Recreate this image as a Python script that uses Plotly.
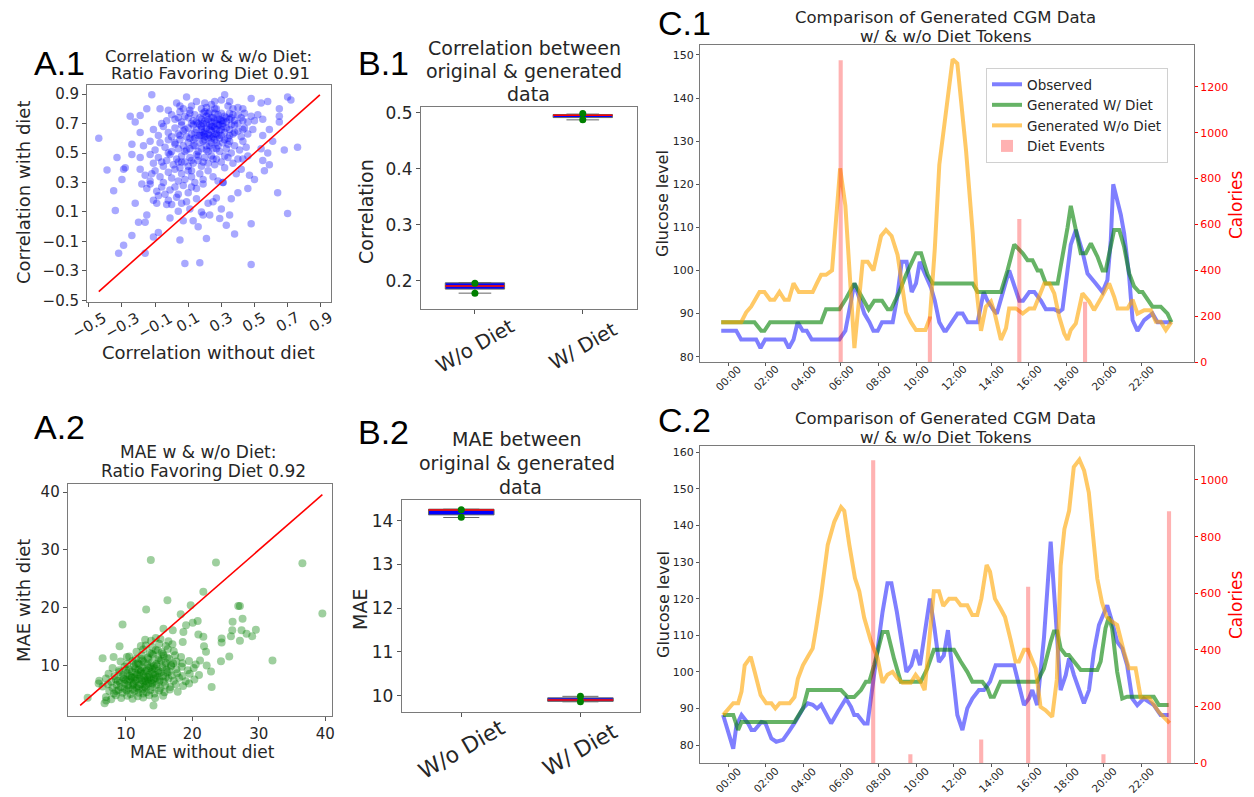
import plotly.graph_objects as go

W, H = 1254, 797


def px(x):
    return x / W


def py(y):
    return 1 - y / H


FONT = "DejaVu Sans"
TXT = "#262626"

# ---------------- A.1 : correlation with / without diet ----------------
corr_without_diet = [
    -0.12, -0.15, -0.07, -0.02, 0.03, 0.05, 0.09, 0.12, 0.15, 0.18,
    0.21, 0.24, 0.27, 0.30, 0.32, 0.34, 0.37, 0.40, 0.43, 0.48,
    0.54, 0.58, 0.65, 0.70, 0.72, 0.26, 0.11, 0.20, 0.35, 0.07,
    -0.25, -0.22, -0.19, -0.06, -0.03, 0.00, 0.02, 0.05, 0.06, 0.08,
    0.10, 0.11, 0.13, 0.14, 0.16, 0.17, 0.19, 0.20, 0.21, 0.23,
    0.24, 0.25, 0.26, 0.27, 0.29, 0.30, 0.32, 0.33, 0.35, 0.36,
    0.38, 0.40, 0.42, 0.44, 0.46, 0.48, 0.50, 0.52, 0.55, 0.65,
    0.65, 0.22, 0.28, 0.31, 0.18, 0.12, 0.37, 0.43, 0.04, 0.26,
    -0.44, -0.19, -0.11, -0.08, -0.05, -0.02, 0.00, 0.02, 0.04, 0.06,
    0.07, 0.09, 0.10, 0.12, 0.13, 0.14, 0.15, 0.17, 0.18, 0.19,
    0.20, 0.21, 0.22, 0.23, 0.24, 0.25, 0.26, 0.27, 0.28, 0.29,
    0.30, 0.31, 0.32, 0.34, 0.35, 0.37, 0.38, 0.40, 0.42, 0.44,
    0.46, 0.49, 0.55, 0.59, 0.22, 0.24, 0.20, 0.27, 0.18, 0.33,
    -0.24, -0.17, -0.13, -0.10, -0.07, -0.04, -0.02, 0.00, 0.02, 0.04,
    0.05, 0.07, 0.08, 0.10, 0.11, 0.13, 0.14, 0.16, 0.17, 0.18,
    0.20, 0.21, 0.22, 0.24, 0.25, 0.26, 0.28, 0.29, 0.31, 0.33,
    0.35, 0.36, 0.38, 0.41, 0.43, 0.45, 0.54, 0.61, 0.68, 0.76,
    -0.33, -0.28, -0.24, -0.19, -0.13, -0.11, -0.08, -0.05, -0.03, -0.01,
    0.01, 0.03, 0.05, 0.06, 0.08, 0.10, 0.11, 0.13, 0.15, 0.16,
    0.18, 0.20, 0.22, 0.24, 0.26, 0.27, 0.30, 0.32, 0.34, 0.37,
    0.40, 0.43, 0.46, 0.59, 0.55, 0.58, 0.12, 0.19, 0.04, -0.06,
    -0.39, -0.29, -0.30, -0.19, -0.16, -0.13, -0.10, -0.07, -0.05, -0.02,
    0.00, 0.02, 0.04, 0.06, 0.08, 0.10, 0.12, 0.14, 0.17, 0.19,
    0.22, 0.25, 0.28, 0.31, 0.39, 0.47, 0.50, 0.56, 0.42, -0.12,
    -0.35, -0.18, -0.13, -0.09, -0.06, -0.04, -0.01, 0.04, 0.07, 0.10,
    0.15, 0.19, 0.40, 0.46, 0.64, 0.31, -0.15, 0.02, 0.12, -0.08,
    -0.34, -0.22, -0.09, -0.02, -0.03, 0.00, 0.04, 0.06, 0.09, 0.11,
    0.22, 0.25, 0.27, 0.18, 0.36, 0.19, 0.03, -0.11, 0.15, 0.30,
    -0.15, -0.20, -0.16, -0.24, -0.29, -0.32, -0.16, -0.11, -0.08, 0.05,
    0.08, 0.17, 0.48, 0.21, 0.16, 0.07, -0.01, 0.23, 0.29, 0.33,
    0.38, 0.48, 0.35, 0.70, 0.13,
    0.15, 0.18, 0.21, 0.23, 0.25, 0.28, 0.30, 0.33, 0.35, 0.19,
    0.22, 0.26, 0.29, 0.31, 0.24, 0.17, 0.20, 0.27, 0.32, 0.36,
    0.14, 0.11, 0.08, 0.13, 0.16, 0.23, 0.25, 0.28, 0.21, 0.30,
    0.38, 0.40, 0.34, 0.19, 0.26, 0.23, 0.29, 0.16, 0.09, 0.05,
    0.02, -0.02, 0.06, 0.12, 0.27, 0.32, 0.35, 0.43, 0.24, 0.20,
]
corr_with_diet = [
    0.895, 0.80, 0.80, 0.79, 0.84, 0.82, 0.88, 0.82, 0.85, 0.80,
    0.81, 0.83, 0.80, 0.86, 0.895, 0.82, 0.80, 0.81, 0.80, 0.87,
    0.84, 0.85, 0.80, 0.88, 0.86, 0.85, 0.79, 0.84, 0.85, 0.80,
    0.75, 0.71, 0.755, 0.70, 0.72, 0.76, 0.73, 0.78, 0.71, 0.75,
    0.74, 0.77, 0.72, 0.76, 0.70, 0.74, 0.77, 0.72, 0.75, 0.78,
    0.71, 0.74, 0.77, 0.70, 0.73, 0.77, 0.75, 0.71, 0.77, 0.74,
    0.72, 0.76, 0.74, 0.77, 0.71, 0.75, 0.72, 0.76, 0.73, 0.75,
    0.71, 0.73, 0.76, 0.72, 0.73, 0.70, 0.76, 0.72, 0.74, 0.72,
    0.60, 0.64, 0.66, 0.62, 0.68, 0.64, 0.61, 0.67, 0.63, 0.69,
    0.65, 0.61, 0.67, 0.63, 0.69, 0.60, 0.66, 0.62, 0.68, 0.64,
    0.61, 0.67, 0.63, 0.69, 0.65, 0.61, 0.67, 0.63, 0.69, 0.65,
    0.62, 0.68, 0.64, 0.60, 0.66, 0.63, 0.69, 0.65, 0.61, 0.67,
    0.63, 0.66, 0.62, 0.66, 0.60, 0.68, 0.65, 0.66, 0.62, 0.67,
    0.56, 0.55, 0.58, 0.52, 0.57, 0.54, 0.59, 0.51, 0.56, 0.53,
    0.59, 0.55, 0.51, 0.57, 0.53, 0.59, 0.55, 0.51, 0.57, 0.53,
    0.59, 0.55, 0.51, 0.57, 0.53, 0.59, 0.55, 0.51, 0.57, 0.53,
    0.58, 0.50, 0.55, 0.52, 0.58, 0.54, 0.53, 0.58, 0.52, 0.54,
    0.47, 0.40, 0.49, 0.47, 0.49, 0.43, 0.47, 0.41, 0.45, 0.49,
    0.42, 0.46, 0.40, 0.48, 0.44, 0.41, 0.47, 0.43, 0.49, 0.45,
    0.41, 0.47, 0.43, 0.48, 0.42, 0.46, 0.44, 0.40, 0.47, 0.43,
    0.46, 0.46, 0.48, 0.42, 0.45, 0.50, 0.45, 0.44, 0.44, 0.44,
    0.385, 0.39, 0.32, 0.39, 0.35, 0.31, 0.38, 0.34, 0.30, 0.37,
    0.33, 0.39, 0.31, 0.36, 0.32, 0.38, 0.34, 0.30, 0.36, 0.32,
    0.38, 0.34, 0.31, 0.30, 0.36, 0.35, 0.32, 0.38, 0.39, 0.36,
    0.245, 0.29, 0.29, 0.24, 0.27, 0.22, 0.25, 0.22, 0.28, 0.23,
    0.26, 0.29, 0.23, 0.26, 0.23, 0.30, 0.26, 0.27, 0.27, 0.21,
    0.11, 0.16, 0.16, 0.18, 0.15, 0.15, 0.105, 0.16, 0.17, 0.12,
    0.16, 0.17, 0.195, 0.10, 0.19, 0.08, 0.20, 0.18, 0.19, 0.12,
    0.08, 0.03, 0.03, -0.06, -0.125, -0.18, -0.18, -0.07, -0.04, -0.09,
    -0.25, -0.245, -0.256, -0.08, 0.00, 0.04, 0.06, 0.08, 0.055, 0.01,
    -0.05, 0.02, 0.08, 0.09, 0.04,
    0.71, 0.66, 0.70, 0.62, 0.68, 0.73, 0.66, 0.74, 0.62, 0.58,
    0.77, 0.63, 0.60, 0.70, 0.74, 0.69, 0.63, 0.57, 0.59, 0.69,
    0.64, 0.60, 0.66, 0.55, 0.48, 0.55, 0.46, 0.62, 0.52, 0.72,
    0.64, 0.70, 0.56, 0.70, 0.80, 0.66, 0.69, 0.62, 0.52, 0.62,
    0.57, 0.50, 0.44, 0.38, 0.53, 0.48, 0.73, 0.66, 0.60, 0.78,
]
corr_ticks = [-0.5, -0.3, -0.1, 0.1, 0.3, 0.5, 0.7, 0.9]

# ---------------- A.2 : MAE with / without diet ----------------
mae_without_diet = [
    13.75, 23.55, 36.55, 39.55, 21.65, 16.25, 13.05, 19.75, 9.5, 32.05,
    22.9, 14.15, 4.25, 26.9, 27.15, 27.55, 26.05, 26.0, 27.4, 28.15,
    29.55, 29.0, 27.15, 25.8, 24.4, 24.4, 25.55, 24.3, 22.8, 21.65,
    18.25, 19.05, 20.05, 20.8, 20.9, 18.55, 18.65, 17.05, 15.65, 12.9,
    12.25, 9.05, 8.15, 6.5, 10.15, 5.9, 7.05, 6.8, 21.75, 22.05,
    22.15, 21.15, 7.0, 7.8, 8.5, 9.3, 10.2, 11.0, 11.8, 12.6,
    13.5, 14.4, 15.6, 7.5, 8.2, 8.9, 9.5, 10.1, 10.7, 11.3,
    11.9, 12.5, 13.1, 13.7, 14.3, 15.0, 15.8, 16.6, 17.8, 6.5,
    7.3, 8.0, 8.6, 9.2, 9.8, 10.4, 11.0, 11.6, 12.2, 12.8,
    13.4, 14.0, 14.6, 15.2, 15.9, 16.7, 17.5, 18.6, 19.5, 6.0,
    7.0, 7.8, 8.5, 9.1, 9.7, 10.3, 10.9, 11.5, 12.1, 12.7,
    13.3, 13.9, 14.5, 15.1, 15.7, 16.4, 17.2, 18.0, 19.0, 20.3,
    7.4, 8.3, 9.0, 9.6, 10.2, 10.8, 11.4, 12.0, 12.6, 13.2,
    13.8, 14.4, 15.0, 15.6, 16.2, 16.9, 17.7, 18.5, 19.6, 21.0,
    8.0, 9.0, 9.8, 10.5, 11.2, 11.9, 12.5, 13.1, 13.7, 14.3,
    14.9, 15.5, 16.1, 16.8, 17.6, 18.4, 19.3, 20.2, 9.2, 10.2,
    11.0, 11.8, 12.5, 13.2, 13.9, 14.6, 15.3, 16.0, 16.8, 17.6,
    18.5, 19.5, 20.5, 10.5, 11.5, 12.4, 13.3, 14.1, 14.9, 15.7,
    16.5, 17.4, 18.3, 11.6, 12.6, 13.6, 14.5, 15.4, 16.3, 17.2,
    13.0, 14.0, 15.0, 16.0, 17.0, 13.8, 15.2, 16.4, 14.5, 11.2,
    12.4, 13.6, 12.9, 11.7, 14.2, 13.0, 10.6, 12.3, 14.8, 11.9,
    13.4, 10.9, 12.8, 14.0,
    10.0, 10.6, 11.1, 11.7, 12.2, 12.9, 13.5, 14.1, 14.7, 15.3,
    15.9, 16.5, 11.4, 12.0, 12.7, 13.4, 14.2, 15.0, 16.2, 17.1,
    10.3, 11.0, 12.0, 13.0, 14.0, 15.0, 16.0, 9.5, 8.8, 10.1,
    11.5, 12.3, 13.9, 14.8, 15.6, 9.8, 8.6, 12.6, 13.8, 11.3,
]
mae_with_diet = [
    28.26, 27.85, 27.7, 19.0, 22.77, 21.3, 19.7, 20.46, 17.1, 10.9,
    6.3, 3.13, 4.45, 20.3, 20.3, 18.1, 17.6, 16.1, 16.1, 15.5,
    16.2, 15.1, 14.3, 15.1, 14.7, 14.0, 11.6, 10.75, 9.0, 15.0,
    18.9, 17.0, 17.4, 17.7, 15.4, 14.1, 15.8, 16.1, 16.4, 14.5,
    13.4, 13.35, 11.5, 11.3, 11.5, 6.9, 4.0, 3.5, 13.35, 12.4,
    10.05, 10.9, 4.6, 4.2, 4.9, 4.4, 4.8, 4.3, 4.7, 4.5,
    4.9, 4.4, 4.8, 5.6, 5.2, 5.8, 5.3, 5.7, 5.1, 5.6,
    5.3, 5.9, 5.4, 5.8, 5.2, 5.7, 5.4, 5.9, 5.5, 6.4,
    6.8, 6.2, 6.7, 6.3, 6.9, 6.1, 6.6, 6.2, 6.8, 6.4,
    6.9, 6.3, 6.7, 6.1, 6.6, 6.3, 6.8, 6.5, 6.9, 7.4,
    7.8, 7.2, 7.6, 7.1, 7.7, 7.3, 7.9, 7.4, 7.8, 7.2,
    7.6, 7.1, 7.9, 7.5, 7.2, 7.8, 7.4, 7.9, 7.3, 7.6,
    8.6, 8.2, 8.9, 8.4, 8.7, 8.1, 8.8, 8.3, 8.6, 8.1,
    8.9, 8.4, 8.7, 8.2, 8.8, 8.3, 8.7, 8.2, 8.6, 8.4,
    9.6, 9.2, 9.8, 9.4, 9.9, 9.3, 9.7, 9.2, 9.8, 9.5,
    9.1, 9.7, 9.3, 9.9, 9.4, 9.8, 9.2, 9.6, 10.7, 10.3,
    10.8, 10.4, 10.9, 10.2, 10.6, 10.3, 10.9, 10.5, 10.1, 10.7,
    10.4, 10.8, 10.2, 11.6, 11.2, 11.8, 11.4, 11.9, 11.3, 11.7,
    11.2, 11.8, 11.5, 12.4, 12.8, 12.2, 12.7, 12.3, 12.9, 12.5,
    13.5, 13.2, 13.8, 13.4, 13.7, 14.3, 14.6, 14.2, 14.8, 7.0,
    7.5, 8.0, 9.0, 8.5, 7.7, 6.7, 7.6, 9.1, 8.1, 6.5,
    8.4, 9.0, 7.9, 9.3,
    7.5, 8.2, 6.8, 7.7, 8.9, 7.4, 9.6, 8.6, 9.9, 8.9,
    10.1, 9.0, 9.5, 10.2, 10.6, 11.1, 10.0, 11.0, 11.4, 10.4,
    6.6, 5.9, 6.0, 6.2, 6.9, 7.2, 8.0, 8.0, 7.4, 9.2,
    10.3, 11.2, 12.0, 12.6, 12.0, 6.0, 5.6, 5.2, 7.5, 8.0,
]
mae_ticks = [10, 20, 30, 40]

# ---------------- B : box summaries ----------------
box_labels = ["W/o Diet", "W/ Diet"]
box_positions = [1, 2]
corr_q1 = [0.1850, 0.4913]
corr_median = [0.1905, 0.4955]
corr_q3 = [0.1962, 0.4968]
corr_lower = [0.1778, 0.4872]
corr_upper = [0.1964, 0.4975]
corr_run_a = [0.1955, 0.4985]
corr_run_b = [0.1778, 0.4874]
corr_box_ticks = [0.2, 0.3, 0.4, 0.5]

mae_q1 = [14.13, 9.87]
mae_median = [14.24, 9.90]
mae_q3 = [14.26, 9.95]
mae_lower = [14.07, 9.86]
mae_upper = [14.25, 9.985]
mae_run_a = [14.245, 9.985]
mae_run_b = [14.075, 9.862]
mae_box_ticks = [10, 11, 12, 13, 14]

# ---------------- C.1 : CGM day 1 (hours, mg/dL) ----------------
c1_obs_t = [-0.37, 0.43, 0.69, 1.49, 1.72, 1.97, 3.0, 3.23, 3.48, 3.7, 3.97, 4.18, 4.45, 5.92, 6.24,
            6.49, 6.72, 6.99, 7.25, 7.52, 7.73, 7.96, 8.19, 8.76, 8.99, 9.24, 9.5, 9.77, 10.0, 10.2,
            10.5, 10.8, 11.0, 11.24, 11.5, 11.6, 12.21, 12.48, 12.75, 13.28, 13.6, 13.8, 14.1, 14.3,
            14.96, 15.5, 15.7, 16.03, 16.3, 16.65, 16.91, 17.36, 17.62, 17.8, 18.24, 18.51, 18.86,
            19.13, 19.57, 19.93, 20.19, 20.37, 20.5, 20.9, 21.08, 21.35, 21.53, 21.79, 22.15, 22.59,
            22.86, 23.3, 23.6]
c1_obs_g = [86, 86, 84, 84, 82, 84, 84, 82, 84, 88, 86, 86, 84, 84, 86,
            92, 97, 93.5, 90, 88, 86, 86, 88, 88, 93.5, 102, 102, 95, 97, 102,
            99, 96, 93, 88, 86, 86, 90, 90, 88, 88, 95, 93, 91, 90,
            100, 93, 93, 95, 95, 93, 91, 91, 90.4, 91, 106, 109.4, 104.4,
            99.3, 97, 95, 97.8, 107, 120, 113, 108.6, 98.6, 88.5, 86, 88.5, 90,
            88, 88, 88]
c1_wd_t = [-0.37, 1.4, 1.76, 1.93, 2.23, 4.95, 5.21, 5.92, 6.28, 6.72, 7.16, 7.48, 7.78, 8.19, 8.49,
           8.67, 9.11, 9.47, 10.0, 10.27, 10.62, 10.89, 13.02, 13.28, 14.52, 14.87, 15.23, 15.68,
           15.94, 16.2, 16.47, 16.65, 16.91, 17.54, 18.07, 18.24, 18.51, 18.77, 19.04, 19.31, 19.66,
           19.93, 20.1, 20.37, 20.55, 20.82, 21.08, 21.35, 21.61, 21.88, 22.06, 22.59, 23.03, 23.39, 23.6]
c1_wd_g = [88, 88, 86, 86, 88, 88, 91, 91, 93.5, 97, 93.5, 91, 93, 93, 91,
           91, 95, 99, 104, 104, 99, 97, 97, 95, 95, 100, 106, 104,
           102.4, 102.4, 100, 100, 97, 97, 110, 115, 109.4, 104, 104, 106.3, 103.2,
           100, 100, 105.5, 109.4, 109.4, 105.5, 99.3, 96.3, 95, 95, 91.6, 91.6, 90, 88]
c1_wod_t = [-0.37, 0.69, 0.96, 1.22, 1.67, 1.93, 2.23, 2.46, 2.73, 3.0, 3.23, 3.48, 3.76, 4.5, 4.72,
            4.95, 5.21, 5.53, 5.96, 6.24, 6.72, 7.16, 7.43, 7.73, 8.14, 8.4, 8.7, 9.02, 9.47, 9.73,
            10.0, 10.5, 10.74, 11.0, 11.24, 11.5, 11.7, 11.95, 12.2, 12.66, 13.02, 13.2, 13.46, 13.72,
            13.99, 14.17, 14.52, 14.79, 14.96, 15.32, 15.68, 16.03, 16.3, 16.56, 16.83, 17.1, 17.36,
            17.62, 17.89, 18.07, 18.24, 18.51, 18.86, 19.22, 19.48, 19.84, 20.28, 20.55, 20.73, 21.26,
            21.53, 21.79, 22.15, 22.5, 22.77, 23.03, 23.3, 23.6]
c1_wod_g = [88, 88, 90.3, 91.6, 95, 95, 93.2, 93.2, 95, 93.2, 93.2, 97, 95, 95, 97,
            99, 99, 100, 123.7, 115, 82, 102, 102, 100, 108, 109.4, 108, 103.6, 90.3, 88,
            86.2, 86.2, 89, 105, 124.5, 133.4, 140, 149, 148, 128, 108.6, 96.3, 86, 91.6,
            92.8, 90.4, 83.9, 86.6, 91.2, 91.2, 90, 91.2, 91.2, 93.9, 97, 97, 94.7,
            89.3, 85.4, 83.9, 86.2, 87.7, 94.7, 92.8, 90.8, 93.5, 97, 93.9, 91.2, 91.2,
            93.2, 90, 90.8, 90.8, 88.1, 88.1, 86.2, 88.1]
c1_meal_t = [5.99, 10.74, 15.5, 19.0]
c1_meal_cal = [1316, 200, 624, 264]

# ---------------- C.2 : CGM day 2 ----------------
c2_obs_t = [-0.27, 0.09, 0.27, 0.44, 0.71, 1.06, 1.24, 1.41, 1.77, 1.98, 2.3, 2.56, 2.92, 3.22, 3.57,
            3.98, 4.24, 4.5, 4.73, 4.95, 5.21, 5.48, 5.83, 6.27, 6.54, 6.71, 6.89, 7.24, 7.42, 7.69,
            7.92, 8.22, 8.48, 8.69, 8.98, 9.28, 9.49, 9.75, 9.98, 10.21, 10.46, 10.74, 10.98, 11.22,
            11.48, 11.7, 12.2, 12.47, 12.73, 13.0, 13.35, 13.62, 13.94, 14.24, 14.86, 15.22, 15.48,
            15.75, 16.01, 16.19, 16.45, 16.81, 17.17, 17.7, 17.97, 18.15, 18.41, 18.77, 18.94, 19.21,
            19.47, 19.74, 20.0, 20.18, 20.44, 20.71, 20.98, 21.24, 21.51, 21.78, 22.13, 22.66, 23.02, 23.45]
c2_obs_g = [88.2, 81.8, 79, 85.4, 88.2, 85.9, 84.1, 84.1, 86.3, 86, 81.8, 80.9, 81.4, 83.6, 86.3,
            90, 91.4, 91, 90, 91, 88.2, 85.9, 89, 92.7, 90.4, 88.2, 88.2, 85.9, 85.9, 96.4,
            105.5, 116.4, 124.2, 124.2, 116.4, 107.3, 100, 101.8, 106, 101.8, 110.9, 120, 112, 102.7,
            104.5, 111.4, 88.2, 84.1, 90, 92.7, 95, 95, 97.3, 101.8, 101.8, 101.8, 96.4,
            90.9, 92.7, 95, 90.9, 109.1, 135.6, 95, 99.1, 103.7, 99.1, 93.6, 91.4, 95,
            105.5, 112.8, 116.4, 118.2, 113.7, 108.2, 106.4, 101.8, 92.7, 90.9, 92.7, 90.9, 88.2, 88.2]
c2_wd_t = [-0.27, 0.27, 0.53, 0.71, 3.53, 3.98, 4.24, 6.01, 6.36, 6.71, 7.07, 7.33, 7.51, 7.77, 8.22,
           8.48, 8.83, 9.19, 10.25, 10.6, 10.95, 12.02, 12.38, 12.73, 13.0, 13.53, 13.8, 13.97, 14.15,
           14.33, 14.5, 16.45, 16.81, 17.17, 17.34, 17.52, 17.7, 17.97, 18.14, 18.41, 18.77, 19.65,
           19.83, 20.09, 20.27, 20.44, 20.71, 20.98, 21.24, 22.66, 22.93, 23.45]
c2_wd_g = [88.2, 88.2, 84.1, 86.3, 86.3, 90, 95, 95, 93.1, 93.1, 95, 97.3, 97.3, 101.8, 110.9,
           110.9, 103.6, 97.3, 97.3, 100.9, 106, 106, 102.8, 100, 97.3, 97.3, 95.5, 93.2, 93.2,
           95.5, 97.3, 97.3, 100.9, 108.2, 111, 111, 106.4, 104.6, 104.6, 102.8, 100.5, 100.5,
           102.8, 111.9, 115, 111.9, 100, 92.7, 93.2, 93.2, 90.9, 90.9]
c2_wod_t = [-0.27, 0.0, 0.27, 0.53, 0.71, 0.88, 1.2, 1.41, 1.73, 2.03, 2.3, 2.51, 2.74, 3.27, 3.53,
            3.71, 3.98, 4.24, 4.5, 4.68, 4.95, 5.3, 5.65, 6.01, 6.18, 6.45, 6.75, 6.98, 7.24, 7.6,
            7.95, 8.22, 8.48, 8.75, 9.01, 9.28, 9.72, 9.98, 10.25, 10.46, 10.95, 11.22, 11.45, 11.76,
            12.11, 12.38, 12.73, 13.0, 13.26, 13.48, 13.76, 13.94, 14.2, 14.5, 14.74, 15.04, 15.3,
            15.48, 15.75, 15.96, 16.37, 16.63, 16.9, 17.25, 17.5, 17.7, 17.9, 18.15, 18.4, 18.7,
            18.95, 19.2, 19.45, 19.65, 19.9, 20.15, 20.45, 20.71, 21.07, 21.33, 21.69, 21.96, 22.4,
            22.93, 23.5]
c2_wod_g = [88.2, 90, 91.4, 91.4, 94.6, 101.8, 104.1, 100, 93.6, 91.4, 91.4, 90, 91.4, 91.4, 93.1,
            98.1, 101.8, 104.1, 106.4, 111.9, 121, 134.7, 141, 145, 144, 134.7, 125.6, 122, 114.8, 108.4,
            103.8, 97, 99.2, 100, 98.2, 97, 97, 99.2, 97.3, 95, 122, 122, 118, 120,
            120, 118.2, 118.2, 115.5, 115.5, 120, 129.2, 127.4, 120, 117.3, 115, 108.7, 102.8,
            102.8, 106, 106, 100.9, 90.4, 89.5, 87.7, 98, 129, 139, 144, 156, 158,
            155, 149, 136, 125.5, 119, 115, 113.7, 112.8, 105.5, 101, 101, 93, 93,
            89, 86]
c2_meal_t = [7.72, 9.7, 13.47, 15.97, 19.98, 23.47]
c2_meal_cal = [1070, 32, 84, 623, 32, 890]

hour_ticks = [0, 2, 4, 6, 8, 10, 12, 14, 16, 18, 20, 22]
hour_labels = ["00:00", "02:00", "04:00", "06:00", "08:00", "10:00",
               "12:00", "14:00", "16:00", "18:00", "20:00", "22:00"]

for a, b in [(corr_without_diet, corr_with_diet), (mae_without_diet, mae_with_diet),
             (c1_obs_t, c1_obs_g), (c1_wd_t, c1_wd_g), (c1_wod_t, c1_wod_g),
             (c2_obs_t, c2_obs_g), (c2_wd_t, c2_wd_g), (c2_wod_t, c2_wod_g)]:
    assert len(a) == len(b), (len(a), len(b))

# ---------------- styles ----------------
C_OBS = "rgba(0,0,255,0.5)"
C_WD = "rgba(0,128,0,0.6)"
C_WOD = "rgba(255,165,0,0.6)"
C_MEAL = "rgba(255,0,0,0.3)"
LW = 4
BAR_W = 0.22
BOX_W = 0.55


def fmt_minus(v, nd=1):
    s = f"{abs(v):.{nd}f}"
    return ("\u2212" + s) if v < 0 else s


fig = go.Figure()

# A.1
fig.add_trace(go.Scatter(x=corr_without_diet, y=corr_with_diet, mode="markers",
                         marker=dict(color="blue", opacity=0.34, size=7.5, line=dict(width=0)),
                         xaxis="x", yaxis="y", showlegend=False, hoverinfo="skip"))
lo1 = min(min(corr_without_diet), min(corr_with_diet))
hi1 = max(max(corr_without_diet), max(corr_with_diet))
fig.add_trace(go.Scatter(x=[lo1, hi1], y=[lo1, hi1], mode="lines", line=dict(color="red", width=1.6),
                         xaxis="x", yaxis="y", showlegend=False, hoverinfo="skip"))

# A.2
fig.add_trace(go.Scatter(x=mae_without_diet, y=mae_with_diet, mode="markers",
                         marker=dict(color="green", opacity=0.38, size=8, line=dict(width=0)),
                         xaxis="x2", yaxis="y2", showlegend=False, hoverinfo="skip"))
lo2 = min(min(mae_without_diet), min(mae_with_diet))
hi2 = max(max(mae_without_diet), max(mae_with_diet))
fig.add_trace(go.Scatter(x=[lo2, hi2], y=[lo2, hi2], mode="lines", line=dict(color="red", width=1.6),
                         xaxis="x2", yaxis="y2", showlegend=False, hoverinfo="skip"))


def add_boxes(q1, med, q3, low, up, run_a, run_b, xa, ya):
    for i, p in enumerate(box_positions):
        fig.add_trace(go.Box(x=[p], q1=[q1[i]], median=[med[i]], q3=[q3[i]],
                             lowerfence=[low[i]], upperfence=[up[i]], width=BOX_W,
                             whiskerwidth=0.55, fillcolor="blue", line=dict(color="#666", width=1),
                             boxpoints=False, xaxis=xa, yaxis=ya, showlegend=False, hoverinfo="skip"))
        fig.add_trace(go.Scatter(x=[p - BOX_W / 2, p + BOX_W / 2], y=[med[i], med[i]], mode="lines",
                                 line=dict(color="red", width=1.5), xaxis=xa, yaxis=ya,
                                 showlegend=False, hoverinfo="skip"))
    fig.add_trace(go.Scatter(x=box_positions + box_positions, y=run_a + run_b, mode="markers",
                             marker=dict(color="green", size=7), xaxis=xa, yaxis=ya,
                             showlegend=False, hoverinfo="skip"))


add_boxes(corr_q1, corr_median, corr_q3, corr_lower, corr_upper, corr_run_a, corr_run_b, "x3", "y3")
add_boxes(mae_q1, mae_median, mae_q3, mae_lower, mae_upper, mae_run_a, mae_run_b, "x4", "y4")


def add_cgm(obs_t, obs_g, wd_t, wd_g, wod_t, wod_g, meal_t, meal_cal, xa, ya, ya2, legend):
    fig.add_trace(go.Scatter(x=obs_t, y=obs_g, mode="lines", name="Observed",
                             line=dict(color=C_OBS, width=LW), xaxis=xa, yaxis=ya,
                             showlegend=legend, hoverinfo="skip"))
    fig.add_trace(go.Scatter(x=wd_t, y=wd_g, mode="lines", name="Generated W/ Diet",
                             line=dict(color=C_WD, width=LW), xaxis=xa, yaxis=ya,
                             showlegend=legend, hoverinfo="skip"))
    fig.add_trace(go.Scatter(x=wod_t, y=wod_g, mode="lines", name="Generated W/o Diet",
                             line=dict(color=C_WOD, width=LW), xaxis=xa, yaxis=ya,
                             showlegend=legend, hoverinfo="skip"))
    fig.add_trace(go.Bar(x=meal_t, y=meal_cal, width=BAR_W, name="Diet Events",
                         marker=dict(color=C_MEAL, line=dict(width=0)), xaxis=xa, yaxis=ya2,
                         showlegend=legend, hoverinfo="skip"))


add_cgm(c1_obs_t, c1_obs_g, c1_wd_t, c1_wd_g, c1_wod_t, c1_wod_g, c1_meal_t, c1_meal_cal,
        "x5", "y5", "y6", True)
add_cgm(c2_obs_t, c2_obs_g, c2_wd_t, c2_wd_g, c2_wod_t, c2_wod_g, c2_meal_t, c2_meal_cal,
        "x6", "y7", "y8", False)


def axis(domain, rng, tickvals, size=15, show_labels=True, ticktext=None, **kw):
    d = dict(domain=domain, range=rng, tickvals=tickvals, showline=True, linecolor="#7a7a7a",
             linewidth=1, mirror=True, ticks="outside", ticklen=4, tickwidth=1, tickcolor="#555",
             showgrid=False, zeroline=False, showticklabels=show_labels,
             tickfont=dict(family=FONT, size=size, color=TXT))
    if ticktext is not None:
        d["ticktext"] = ticktext
    d.update(kw)
    return d


layout = dict(
    width=W, height=H, margin=dict(l=0, r=0, t=0, b=0), autosize=False,
    paper_bgcolor="white", plot_bgcolor="white", template="none", barmode="overlay",
    font=dict(family=FONT, color=TXT),
    xaxis=axis([px(87), px(331)], [-0.511, 0.962], corr_ticks, show_labels=False, anchor="y"),
    yaxis=axis([py(302), py(85)], [-0.511, 0.962], corr_ticks,
               ticktext=[fmt_minus(v) for v in corr_ticks], anchor="x"),
    xaxis2=axis([px(67.7), px(332)], [1.25, 41.0], mae_ticks, anchor="y2"),
    yaxis2=axis([py(716), py(484)], [1.3, 41.4], mae_ticks, anchor="x2"),
    xaxis3=axis([px(421), px(636.7)], [0.5, 2.5], box_positions, show_labels=False, anchor="y3"),
    yaxis3=axis([py(309), py(106.7)], [0.1495, 0.5107], corr_box_ticks, size=17,
                ticktext=[f"{v:.1f}" for v in corr_box_ticks], anchor="x3"),
    xaxis4=axis([px(401.7), px(640)], [0.5, 2.5], box_positions, show_labels=False, anchor="y4"),
    yaxis4=axis([py(711.7), py(500)], [9.634, 14.47], mae_box_ticks, size=17, anchor="x4"),
    xaxis5=axis([px(700), px(1194)], [-1.5, 24.8], hour_ticks, show_labels=False, anchor="y5",
                ticklen=3),
    yaxis5=axis([py(362.3), py(45)], [78.7, 152.3], list(range(80, 151, 10)), size=11,
                anchor="x5", ticklen=3),
    yaxis6=dict(overlaying="y5", side="right", anchor="x5", range=[0, 1382],
                tickvals=list(range(0, 1201, 200)), showline=False, showgrid=False, zeroline=False,
                ticks="outside", ticklen=3, tickcolor="red",
                tickfont=dict(family=FONT, size=11, color="red")),
    xaxis6=axis([px(700), px(1194)], [-1.5, 24.8], hour_ticks, show_labels=False, anchor="y7",
                ticklen=3),
    yaxis7=axis([py(763.3), py(445.7)], [75, 161.8], list(range(80, 161, 10)), size=11,
                anchor="x6", ticklen=3),
    yaxis8=dict(overlaying="y7", side="right", anchor="x6", range=[0, 1121],
                tickvals=list(range(0, 1001, 200)), showline=False, showgrid=False, zeroline=False,
                ticks="outside", ticklen=3, tickcolor="red",
                tickfont=dict(family=FONT, size=11, color="red")),
    legend=dict(x=px(986), y=py(68), xanchor="left", yanchor="top",
                bgcolor="rgba(255,255,255,0.85)", bordercolor="#d0d0d0", borderwidth=1,
                font=dict(family=FONT, size=13.5, color=TXT), tracegroupgap=0),
)
fig.update_layout(**layout)

anns = []


def ann(text, x, y, size, color=TXT, angle=0, family=FONT, xanchor="center",
        xref="paper", yref="paper"):
    xv = px(x) if xref == "paper" else x
    yv = py(y) if yref == "paper" else y
    anns.append(dict(text=text, x=xv, y=yv, xref=xref, yref=yref, showarrow=False,
                     font=dict(family=family, size=size, color=color), textangle=angle,
                     xanchor=xanchor, yanchor="middle", borderpad=0))


# panel labels
for lab, x, y in [("A.1", 33, 63), ("A.2", 33, 427), ("B.1", 357, 63), ("B.2", 357, 432),
                  ("C.1", 657, 23), ("C.2", 657, 420)]:
    ann(lab, x, y, 34, color="black", family="Liberation Sans", xanchor="left")

# titles
ann("Correlation w & w/o Diet:", 208, 56, 16.5)
ann("Ratio Favoring Diet 0.91", 210, 73, 16.5)
ann("MAE w & w/o Diet:", 199, 452, 17)
ann("Ratio Favoring Diet 0.92", 203, 471, 17)
ann("Correlation between", 524, 48, 19)
ann("original & generated", 524, 71, 19)
ann("data", 528, 94, 19)
ann("MAE between", 517, 439, 19)
ann("original & generated", 517, 463, 19)
ann("data", 520, 487, 19)
for yy1, yy2 in [(17, 37), (418, 437)]:
    ann("Comparison of Generated CGM Data", 945, yy1, 16.5)
    ann("w/ & w/o Diet Tokens", 946, yy2, 16.5)

# axis titles
ann("Correlation with diet", 23, 193, 18, angle=-90)
ann("Correlation without diet", 208, 352, 18)
ann("MAE with diet", 23, 601, 18, angle=-90)
ann("MAE without diet", 202, 752, 17)
ann("Correlation", 366, 212, 19, angle=-90)
ann("MAE", 360, 610, 19, angle=-90)
ann("Glucose level", 662, 204, 16, angle=-90)
ann("Calories", 1236, 205, 17, color="red", angle=-90)
ann("Glucose level", 663, 605, 16, angle=-90)
ann("Calories", 1236, 605, 17, color="red", angle=-90)

# rotated tick labels
for v in corr_ticks:
    ann(fmt_minus(v), v, 326 if v < 0 else 322, 15, angle=-30, xref="x")
for p, lab in zip(box_positions, box_labels):
    ann(lab, p, 346, 20, angle=-30, xref="x3")
    ann(lab, p, 749, 22, angle=-30, xref="x4")
for v, lab in zip(hour_ticks, hour_labels):
    ann(lab, v, 378, 10.5, angle=-45, xref="x5")
    ann(lab, v, 780, 10.5, angle=-45, xref="x6")

fig.update_layout(annotations=anns)
fig.write_html(
    "out.html",
    config={"displayModeBar": False, "staticPlot": True},
    post_script="document.documentElement.style.margin='0';document.body.style.margin='0';"
                "document.body.style.padding='0';document.body.style.overflow='hidden';",
)
